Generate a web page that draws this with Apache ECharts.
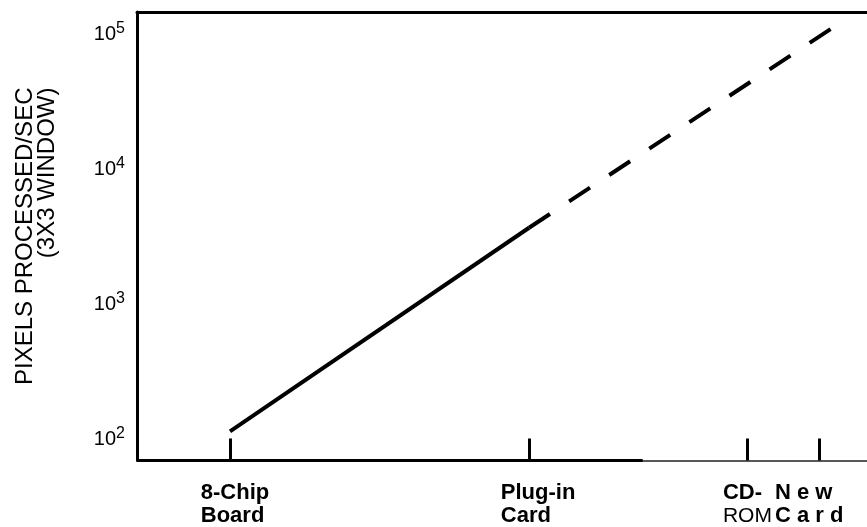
<!DOCTYPE html>
<html><head><meta charset="utf-8">
<script src="https://cdn.jsdelivr.net/npm/echarts@6/dist/echarts.min.js"></script>
<style>html,body{margin:0;padding:0;background:#fff}#c{width:867px;height:527px}</style>
</head><body><div id="c"></div>
<script>
// ---- data ----
const stageNames = ['8-Chip Board', 'Plug-in Card', 'CD-ROM', 'New Card'];
const stageLabelTop = ['8-Chip', 'Plug-in', 'CD-', 'N e w'];
const stageLabelBottom = ['Board', 'Card', 'ROM', 'C a r d'];
const stagePositions = [1, 2, 2.73, 2.97];
const measuredX = [1, 2];
const measuredY = [115, 3700];
const projectedX = [2, 3.01];
const projectedY = [3700, 110000];
const yTickValues = [100, 1000, 10000, 100000];
const xRange = [0.689, 3.13];
const yRange = [70, 146500];
const thickAxisEnd = 2.38;

// ---- styles ----
const FONT = '"Liberation Sans", Arial, Helvetica, sans-serif';
function st(weight, size, pad) {
  return { fontFamily: FONT, fontWeight: weight, fontSize: size, lineHeight: 23, color: '#000', align: 'left', padding: pad };
}
const xRich = {
  t0: st('bold', 22, [0, 0, 0, 10]), b0: st('bold', 22, [0, 0, 0, 10]),
  t1: st('bold', 22, [0, 0, 0, 18]), b1: st('bold', 22, [0, 0, 0, 18]),
  t2: st('bold', 22, [0, 0, 0, 0]),  b2: st('normal', 21, [0, 0, 0, 0]),
  t3: st('bold', 22, [0, 20, 0, 0]), b3: st('bold', 22, [0, 20, 0, 0])
};

const chart = echarts.init(document.getElementById('c'), null, { renderer: 'canvas' });
chart.setOption({
  animation: false,
  backgroundColor: '#fff',
  textStyle: { fontFamily: FONT, color: '#000' },
  grid: { left: 137, top: 12, right: 0, bottom: 66, containLabel: false },
  xAxis: [{
    type: 'value', position: 'bottom', min: xRange[0], max: xRange[1],
    axisLine: { show: true, onZero: false, lineStyle: { color: '#222', width: 1.5 } },
    axisTick: { show: true, inside: true, length: 22, customValues: stagePositions, lineStyle: { color: '#000', width: 3 } },
    axisLabel: {
      show: true, margin: 21, customValues: stagePositions,
      formatter: function (v) {
        let i = stagePositions.findIndex(p => Math.abs(p - v) < 1e-6);
        if (i < 0) return '';
        return '{t' + i + '|' + stageLabelTop[i] + '}\n{b' + i + '|' + stageLabelBottom[i] + '}';
      },
      rich: xRich
    },
    splitLine: { show: false }
  }, {
    type: 'value', position: 'top', min: xRange[0], max: xRange[1],
    axisLine: { show: true, onZero: false, lineStyle: { color: '#000', width: 3 } },
    axisTick: { show: false }, axisLabel: { show: false }, splitLine: { show: false }
  }],
  yAxis: {
    type: 'log', logBase: 10, min: yRange[0], max: yRange[1],
    axisLine: { show: true, lineStyle: { color: '#000', width: 3 } },
    axisTick: { show: false },
    splitLine: { show: false },
    axisLabel: {
      show: true, margin: 12, customValues: yTickValues,
      formatter: function (v) {
        const e = Math.round(Math.log10(v));
        return '{b|10}{s|' + e + '}';
      },
      rich: {
        b: { fontFamily: FONT, fontSize: 20, lineHeight: 28, color: '#000', verticalAlign: 'middle' },
        s: { fontFamily: FONT, fontSize: 16, lineHeight: 17, color: '#000', verticalAlign: 'top' }
      }
    },
    name: '{a|PIXELS PROCESSED/SEC}\n{c|(3X3 WINDOW)}',
    nameLocation: 'middle', nameRotate: 90, nameGap: 79,
    nameTextStyle: {
      rich: {
        a: { fontFamily: FONT, fontSize: 24, lineHeight: 22, color: '#000', align: 'center' },
        c: { fontFamily: FONT, fontSize: 24, lineHeight: 22, color: '#000', align: 'right' }
      }
    }
  },
  series: [{
    name: 'Measured', type: 'line', xAxisIndex: 0,
    data: measuredX.map((x, i) => [x, measuredY[i]]),
    symbol: 'none', silent: true,
    lineStyle: { color: '#000', width: 4 },
    markLine: {
      symbol: 'none', silent: true, label: { show: false },
      lineStyle: { color: '#000', width: 3, type: 'solid' },
      data: [[{ coord: [xRange[0], yRange[0]] }, { coord: [thickAxisEnd, yRange[0]] }]]
    }
  }, {
    name: 'Projected', type: 'line', xAxisIndex: 0,
    data: projectedX.map((x, i) => [x, projectedY[i]]),
    symbol: 'none', silent: true,
    lineStyle: { color: '#000', width: 4, type: [25, 23] }
  }]
});
</script></body></html>
